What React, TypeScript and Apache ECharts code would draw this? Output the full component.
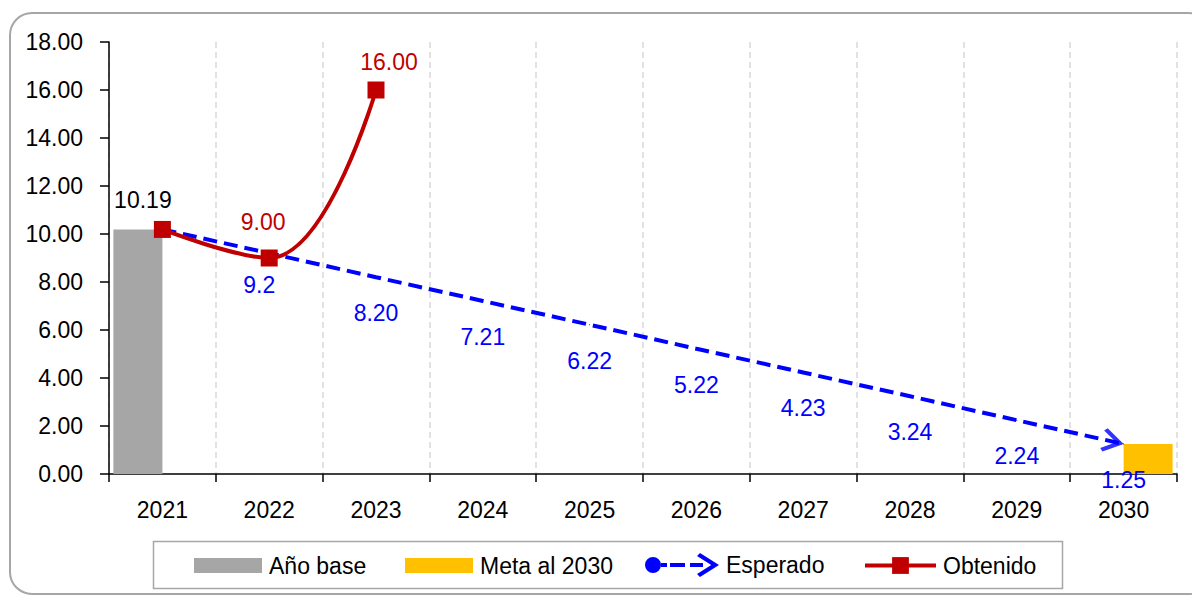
import React, { useEffect, useRef } from 'react';
import * as echarts from 'echarts';

const years = ['2021', '2022', '2023', '2024', '2025', '2026', '2027', '2028', '2029', '2030'];
const anoBase = [10.19, null, null, null, null, null, null, null, null, null];
const meta2030 = [null, null, null, null, null, null, null, null, null, 1.25];
const esperado = [10.19, 9.2, 8.2, 7.21, 6.22, 5.22, 4.23, 3.24, 2.24, 1.25];
const esperadoLabels = ['10.19', '9.2', '8.20', '7.21', '6.22', '5.22', '4.23', '3.24', '2.24', '1.25'];
const obtenido = [10.19, 9.0, 16.0];
const yMin = 0;
const yMax = 18;
const yInterval = 2;

const FONT = "'Liberation Sans', Arial, sans-serif";
const FS = 23;

const ESPERADO_ICON =
  'path://M0 12 A8 8 0 1 1 16 12 A8 8 0 1 1 0 12 Z M16 10 L22 10 L22 14 L16 14 Z M25 10 L40 10 L40 14 L25 14 Z M45 10 L58 10 L58 14 L45 14 Z M52 3 L55 0 L74 12 L55 24 L52 21 L66.25 12 Z';
const ARROW = 'path://M0 3 L3 0 L22 12 L3 24 L0 21 L14.25 12 Z';

export default function App() {
  const ref = useRef<HTMLDivElement>(null);
  useEffect(() => {
    if (!ref.current) return;
    const chart = echarts.init(ref.current, null, { renderer: 'svg' });
    const last = esperado.length - 1;
    const legendText = { fontSize: FS, color: '#000', fontFamily: FONT, padding: [0, 0, 0, 2] };
    const legendBase = { orient: 'horizontal', padding: 0, selectedMode: false, top: 554, textStyle: legendText };
    chart.setOption({
      animation: false,
      backgroundColor: '#fff',
      textStyle: { fontFamily: FONT },
      grid: { left: 109, right: 15, top: 42, bottom: 122, containLabel: false },
      xAxis: {
        type: 'category',
        data: years,
        boundaryGap: true,
        axisLine: { lineStyle: { color: '#000', width: 1.5 } },
        axisTick: { show: true, length: 8, lineStyle: { color: '#000', width: 1.5 } },
        axisLabel: { fontSize: FS, color: '#000', margin: 24, fontFamily: FONT },
        splitLine: { show: true, lineStyle: { color: '#d9d9d9', type: [6, 4], width: 1.5 } },
      },
      yAxis: {
        type: 'value',
        min: yMin,
        max: yMax,
        interval: yInterval,
        axisLine: { show: true, lineStyle: { color: '#000', width: 1.5 } },
        axisTick: { show: true, length: 9, lineStyle: { color: '#000', width: 1.5 } },
        axisLabel: { fontSize: FS, color: '#000', margin: 26, fontFamily: FONT, formatter: (v: number) => v.toFixed(2) },
        splitLine: { show: false },
      },
      legend: [
        { ...legendBase, left: 194, itemWidth: 68, itemHeight: 15, icon: 'rect', data: ['Año base'] },
        { ...legendBase, left: 405, itemWidth: 68, itemHeight: 15, icon: 'rect', data: ['Meta al 2030'] },
        {
          ...legendBase,
          top: 553,
          left: 645,
          itemWidth: 74,
          itemHeight: 24,
          data: [{ name: 'Esperado', icon: ESPERADO_ICON, itemStyle: { color: '#0000ff', borderWidth: 0 } }],
        },
        {
          ...legendBase,
          left: 863,
          itemWidth: 71,
          itemHeight: 21,
          data: [{ name: 'Obtenido', lineStyle: { width: 4, color: '#c00000' } }],
        },
      ],
      graphic: [
        {
          type: 'rect',
          silent: true,
          z: -10,
          shape: { x: 10, y: 13, width: 1200, height: 581, r: 22 },
          style: { fill: 'none', stroke: '#a6a6a6', lineWidth: 2 },
        },
        {
          type: 'rect',
          silent: true,
          z: -5,
          shape: { x: 153.5, y: 541.5, width: 909, height: 47 },
          style: { fill: 'none', stroke: '#a6a6a6', lineWidth: 1.5 },
        },
      ],
      series: [
        {
          name: 'Año base',
          type: 'bar',
          data: anoBase,
          barWidth: 49,
          barGap: '0%',
          itemStyle: { color: '#a6a6a6' },
          label: {
            show: true,
            position: 'top',
            distance: 18,
            offset: [5, 0],
            color: '#000',
            fontSize: FS,
            fontFamily: FONT,
            formatter: (p: any) => (p.value == null ? '' : Number(p.value).toFixed(2)),
          },
        },
        {
          name: 'Meta al 2030',
          type: 'bar',
          data: meta2030,
          barWidth: 49,
          barGap: '0%',
          itemStyle: { color: '#ffc000' },
        },
        {
          name: 'Esperado',
          type: 'line',
          z: 3,
          data: esperado.map((v, i) =>
            i === 0
              ? { value: v, label: { show: false } }
              : i === 1
              ? { value: v, label: { offset: [-10, -4] } }
              : v
          ),
          symbol: 'circle',
          symbolSize: 1,
          showSymbol: true,
          itemStyle: { color: '#0000ff' },
          lineStyle: { color: '#0000ff', width: 4, type: [14, 7] },
          label: {
            show: true,
            position: 'bottom',
            distance: 24,
            color: '#0000ff',
            fontSize: FS,
            fontFamily: FONT,
            formatter: (p: any) => esperadoLabels[p.dataIndex],
          },
        },
        {
          name: 'Esperado flecha',
          type: 'scatter',
          z: 4,
          silent: true,
          data: esperado.map((v, i) => (i === last ? v : '-')),
          symbol: ARROW,
          symbolSize: [22, 24],
          symbolRotate: -12.6,
          symbolOffset: [-10.7, -2.4],
          itemStyle: { color: '#0000ff' },
        },
        {
          name: 'Obtenido',
          type: 'line',
          z: 5,
          smooth: 0.42,
          data: obtenido.map((v, i) =>
            i === 0
              ? { value: v, label: { show: false } }
              : i === 1
              ? { value: v, label: { offset: [-6, -8] } }
              : { value: v, label: { offset: [13, 0] } }
          ),
          symbol: 'rect',
          symbolSize: 17,
          itemStyle: { color: '#c00000' },
          lineStyle: { color: '#c00000', width: 4 },
          label: {
            show: true,
            position: 'top',
            distance: 8.5,
            color: '#c00000',
            fontSize: FS,
            fontFamily: FONT,
            formatter: (p: any) => Number(p.value).toFixed(2),
          },
        },
      ],
    });
    return () => chart.dispose();
  }, []);
  return <div ref={ref} style={{ position: 'fixed', left: 0, top: 0, width: 1192, height: 596 }} />;
}
